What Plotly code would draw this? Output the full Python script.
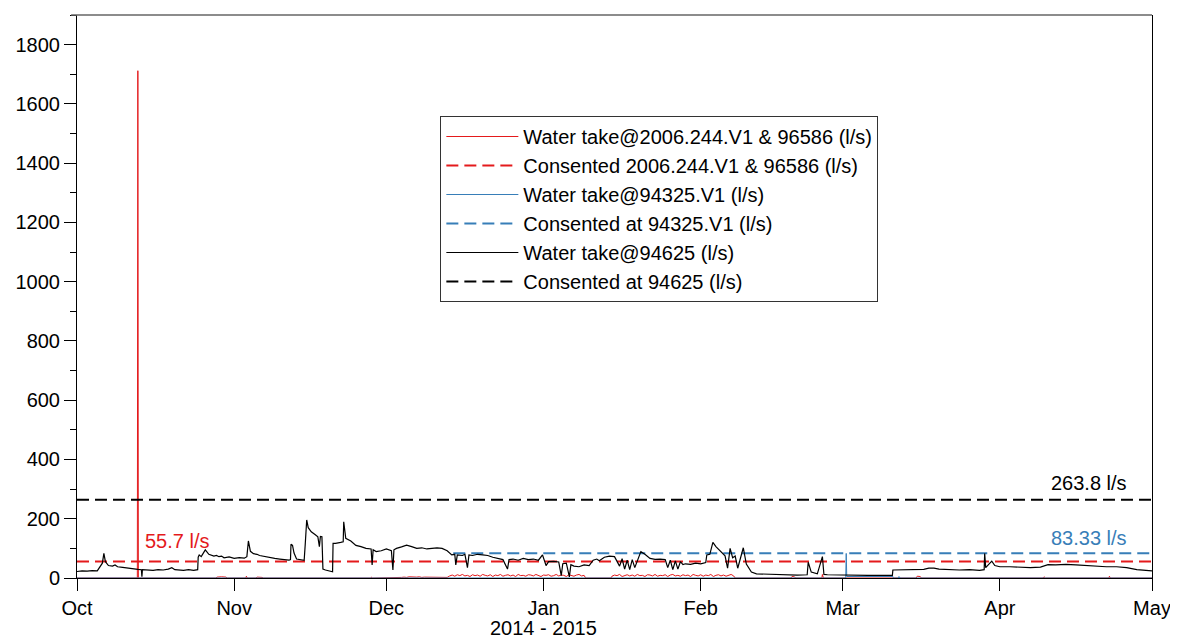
import pandas as pd
import plotly.graph_objects as go

season_start = "2014-10-01"
season_end = "2015-05-01"

# Water take @ 94625 (l/s): (days since 1 Oct 2014, value)
take_94625 = [
    (0, 22), (1, 24), (2, 23), (3, 25), (4, 24), (4.5, 38), (5.0, 50), (5.3, 83), (5.6, 55), (6.2, 42),
    (7, 40), (7.5, 44), (8, 38), (9, 36), (10, 33), (11, 31), (12, 29), (12.7, 28), (12.8, 4), (12.9, 28),
    (14, 27), (15, 26), (16, 28), (17, 27), (18, 30), (18.7, 35), (19.3, 28), (20, 27), (21, 26), (22, 28),
    (23, 26), (23.8, 28), (23.9, 70), (24.1, 78), (24.5, 72), (25.3, 95), (25.6, 88), (26, 80), (27, 74),
    (27.5, 76), (28, 72), (28.5, 74), (29, 68), (30, 71), (31, 66), (32, 69), (33, 67), (33.5, 72),
    (33.8, 125), (34.2, 90), (34.8, 82), (35.5, 80),
    (36, 76), (37, 72), (38, 70), (39, 66), (40, 64), (41, 62), (41.8, 60), (42.1, 62), (42.2, 114),
    (42.5, 110), (42.8, 84), (43.3, 64), (44, 61), (44.8, 60), (45.0, 111), (45.3, 196), (45.6, 170),
    (46.2, 156), (47, 146), (47.5, 139), (47.8, 106), (48.0, 140), (48.3, 139), (48.5, 30), (49, 27),
    (50, 22), (50.4, 21), (50.5, 117), (51, 117), (52, 120), (52.5, 122), (52.6, 190), (53, 134),
    (54, 125), (55, 110), (56, 106), (57, 100), (58, 98), (58.2, 44), (58.4, 95), (59, 89), (60, 92),
    (61, 98), (62, 92), (62.3, 27), (62.5, 95), (63, 100), (64, 105), (65, 111), (66, 106), (67, 100),
    (68, 102), (69, 98), (70, 100), (71, 102), (72, 100), (73, 92), (73.9, 78), (74.5, 80), (74.7, 44),
    (75, 78), (76, 76), (76.5, 80), (77, 35), (77.3, 78), (78, 76), (79, 80), (80, 78), (81, 76),
    (82, 70), (83, 66), (84, 62), (84.9, 30), (85.2, 62), (86, 64), (87, 60), (88, 66), (89, 62),
    (90, 64), (91, 60), (91.8, 78), (92.5, 42), (93, 55), (94, 56), (95, 54), (95.5, 8), (95.8, 48),
    (96.5, 50), (97.1, 4), (97.4, 45), (98, 40), (99, 38), (100, 44), (101, 42), (101.8, 60),
    (102.5, 64), (103, 58), (104, 70), (105, 74), (106, 72), (107, 40), (107.5, 65), (108, 30),
    (108.5, 60), (109, 28), (109.5, 62), (110, 35), (110.5, 60), (111.2, 89), (112, 80), (113, 66),
    (114, 63), (115, 64), (116, 62), (116.5, 35), (117, 60), (117.5, 28), (118, 58), (118.5, 30),
    (119, 55), (119.5, 45), (120, 48), (121, 46), (122, 50), (123, 48), (124, 52), (124.2, 78),
    (124.8, 80), (125.4, 120), (126, 106), (127, 89), (127.8, 75), (128.3, 33), (128.8, 100),
    (129.3, 68), (129.8, 74), (130.3, 33), (131.4, 102), (132, 47), (133, 20), (134, 14), (136, 13),
    (138, 11), (140, 10), (142, 10), (144, 11), (144.2, 53), (144.8, 20), (146, 14), (147, 72),
    (147.3, 12), (148, 11), (150, 10), (152, 11), (154, 9), (156, 9), (158, 9), (160.8, 9),
    (160.9, 27), (163, 28), (165, 30), (167, 29), (168, 33), (169, 33), (170, 30), (172, 28),
    (174, 27), (176, 28), (178, 26), (178.9, 28), (179, 83), (179.2, 35), (180.4, 57), (181, 42),
    (182, 38), (184, 38), (186, 36), (188, 35), (190, 37), (191.5, 45), (193, 44), (195, 46),
    (197, 44), (199, 42), (201, 38), (203, 38), (205, 38), (207, 35), (209, 28), (211, 25), (212, 24),
]

# Water take @ 2006.244.V1 & 96586 (l/s): sparse points plus noisy low segments
take_2006_points = [
    (0, 0), (11.9, 0), (12.0, 1712), (12.1, 0), (27.4, 0), (27.6, 3), (28.5, 4), (29.4, 3), (29.6, 0),
    (33.3, 0), (33.4, 6), (33.6, 0), (35.3, 0), (35.5, 3), (36.5, 2), (36.8, 0), (58.0, 0), (58.1, 3),
    (58.3, 0), (63.5, 0),
]
take_2006_seg_a_start = 64.0
take_2006_seg_a = [2, 3, 2, 4, 3, 2, 3, 4, 2, 3, 3, 2, 4, 3, 2, 3, 3, 4, 2]
take_2006_seg_b_start = 73.5
take_2006_seg_b = [7, 10, 6, 11, 8, 12, 7, 9, 5, 11, 8, 10, 6, 12, 9, 7, 11, 5, 10, 8,
                   12, 6, 9, 11, 7, 10, 5, 12, 8, 9, 6, 11, 10, 7, 12, 8, 5, 10, 9, 11,
                   6, 8, 12, 7, 10, 9, 5, 11, 8, 6, 10, 12, 7, 9]
take_2006_mid = [(100.3, 0), (105.3, 0)]
take_2006_seg_c_start = 105.5
take_2006_seg_c = [6, 10, 8, 12, 5, 9, 11, 7, 10, 6, 12, 8, 9, 5, 11, 10, 7, 12, 6, 9,
                   8, 11, 5, 10, 12, 7, 9, 6, 11, 8, 10, 5, 12, 9, 7, 11, 6, 10, 8, 12,
                   5, 9, 11, 7, 10, 6, 8, 12, 7]
take_2006_tail = [
    (129.8, 0), (140.8, 0), (141, 5), (141.5, 4), (141.7, 0), (146.9, 0), (147, 12), (147.2, 0),
    (165.5, 0), (165.7, 6), (166.3, 5), (166.5, 0), (190.5, 0), (190.7, 4), (191, 0),
    (203.5, 0), (203.6, 6), (203.8, 0), (212, 0),
]
seg_step = 0.5

# Water take @ 94325.V1 (l/s)
take_94325 = [(0, 0), (151.6, 0), (151.7, 83), (151.8, 5), (160.9, 5), (161.0, 0), (162.0, 0),
              (162.1, 5), (162.3, 0), (212, 0)]

# Consented rates (l/s) and their start (days since 1 Oct 2014)
consent_2006 = 55.7
consent_94325 = 83.33
consent_94325_from = 74.2
consent_94625 = 263.8


def to_dates(days):
    return pd.Timestamp(season_start) + pd.to_timedelta(list(days), unit="D")


def split(pairs):
    return [p[0] for p in pairs], [p[1] for p in pairs]


def seg(start, vals):
    return [(start + i * seg_step, v) for i, v in enumerate(vals)]


red_pairs = (take_2006_points + seg(take_2006_seg_a_start, take_2006_seg_a)
             + seg(take_2006_seg_b_start, take_2006_seg_b) + take_2006_mid
             + seg(take_2006_seg_c_start, take_2006_seg_c) + take_2006_tail)

RED = "#e41a1c"
BLUE = "#377eb8"
BLACK = "#000000"
DASH = "12px,6px"
FONT = "Liberation Sans, Arial, Helvetica, sans-serif"

fig = go.Figure()

d, v = split(red_pairs)
fig.add_trace(go.Scatter(x=to_dates(d), y=v, mode="lines", line=dict(color=RED, width=1),
                         name="Water take@2006.244.V1 & 96586 (l/s)"))
fig.add_trace(go.Scatter(x=[season_start, season_end], y=[consent_2006, consent_2006], mode="lines",
                         line=dict(color=RED, width=2, dash=DASH),
                         name="Consented 2006.244.V1 & 96586 (l/s)"))
d, v = split(take_94325)
fig.add_trace(go.Scatter(x=to_dates(d), y=v, mode="lines", line=dict(color=BLUE, width=1),
                         name="Water take@94325.V1 (l/s)"))
fig.add_trace(go.Scatter(x=list(to_dates([consent_94325_from])) + [pd.Timestamp(season_end)],
                         y=[consent_94325, consent_94325], mode="lines",
                         line=dict(color=BLUE, width=2, dash=DASH),
                         name="Consented at 94325.V1 (l/s)"))
d, v = split(take_94625)
fig.add_trace(go.Scatter(x=to_dates(d), y=v, mode="lines", line=dict(color=BLACK, width=1.2),
                         name="Water take@94625 (l/s)"))
fig.add_trace(go.Scatter(x=[season_start, season_end], y=[consent_94625, consent_94625], mode="lines",
                         line=dict(color=BLACK, width=2, dash=DASH),
                         name="Consented at 94625 (l/s)"))

fig.update_layout(
    width=1170, height=631,
    margin=dict(l=66, r=21, t=7, b=61),
    plot_bgcolor="white", paper_bgcolor="white",
    font=dict(family=FONT, size=20, color="black"),
    showlegend=True,
    legend=dict(x=0.338, y=0.8206, xanchor="left", yanchor="top", bgcolor="white",
                bordercolor="#333333", borderwidth=1, font=dict(size=20, family=FONT),
                itemwidth=72),
    xaxis=dict(type="date", range=[season_start, season_end], tickformat="%b", dtick="M1",
               tick0=season_start, ticks="outside", ticklen=12, tickcolor="black",
               showline=True, linecolor="black", linewidth=1, showgrid=False, zeroline=False),
    yaxis=dict(range=[0, 1900], dtick=200, tick0=0, ticks="outside", ticklen=12, tickcolor="black",
               minor=dict(dtick=100, ticks="outside", ticklen=6, tickcolor="black"),
               showline=True, mirror=True, linecolor="black", linewidth=1,
               showgrid=False, zeroline=False),
    shapes=[dict(type="line", xref="paper", yref="paper", x0=-0.0055, x1=1, y0=1, y1=1,
                 line=dict(color="#666666", width=1.5))],
    annotations=[
        dict(text=f"{consent_2006} l/s", xref="paper", x=0.061, xanchor="left", yref="y",
             y=consent_2006, yanchor="middle", yshift=21, showarrow=False,
             font=dict(color=RED, size=20)),
        dict(text=f"{consent_94625} l/s", xref="paper", x=0.979, xanchor="right", yref="y",
             y=consent_94625, yanchor="middle", yshift=17, showarrow=False,
             font=dict(color=BLACK, size=20)),
        dict(text=f"{consent_94325} l/s", xref="paper", x=0.979, xanchor="right", yref="y",
             y=consent_94325, yanchor="middle", yshift=15, showarrow=False,
             font=dict(color=BLUE, size=20)),
        dict(text="2014 - 2015", xref="x", x="2015-01-01", xanchor="center", yref="paper",
             y=-0.0888, yanchor="middle", showarrow=False, font=dict(size=20)),
    ],
)

fig.write_html("out.html")
